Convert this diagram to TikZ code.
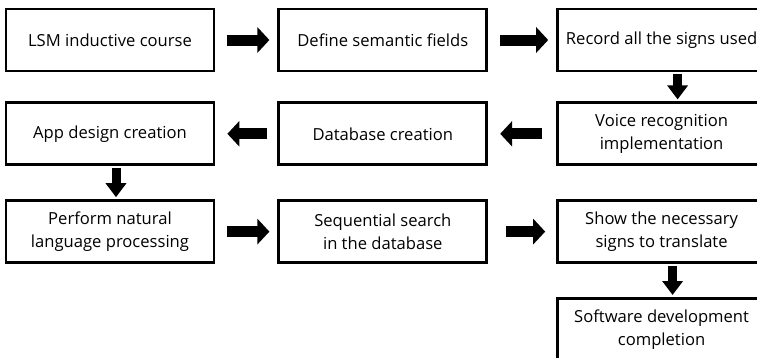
\documentclass[tikz,border=0pt]{standalone}
\usepackage{fontspec}
\setmainfont{Open Sans}
\usetikzlibrary{arrows.meta, positioning, calc}

\begin{document}
\begin{tikzpicture}[node distance=33pt and 62pt,
    stepbox/.style={rectangle, draw, line width=2.8pt, minimum width=208pt, minimum height=62pt,
        inner sep=2pt, align=center, font=\fontsize{16.6}{23}\selectfont},
    harrow/.style={line width=11pt, -{Triangle[length=12pt, width=25pt]}, shorten <=12pt, shorten >=8pt},
    varrow/.style={line width=9pt, -{Triangle[length=14pt, width=20pt]}, shorten <=2pt, shorten >=2pt}]
    \useasboundingbox (-110pt,-317pt) rectangle (647pt,40pt);
    % first row, left to right
    \node[stepbox] (lsm) at (0,0) {LSM inductive course};
    \node[stepbox, right=of lsm] (fields) {Define semantic fields};
    \node[stepbox, right=68pt of fields] (record) {Record all the signs used};
    % second row, right to left
    \node[stepbox, below=29pt of record] (voice) {Voice recognition\\implementation};
    \node[stepbox, left=68pt of voice] (db) {Database creation};
    \node[stepbox, left=of db] (app) {App design creation};
    % third row
    \node[stepbox, below=of app] (nlp) {Perform natural\\language processing};
    \node[stepbox, right=of nlp] (search) {Sequential search\\in the database};
    \node[stepbox, right=68pt of search] (show) {Show the necessary\\signs to translate};
    \node[stepbox, below=of show] (done) {Software development\\completion};

    \draw[harrow] (lsm) -- (fields);
    \draw[harrow] (fields) -- (record);
    \draw[varrow] ([xshift=16pt]record.south) -- ([xshift=16pt]voice.north);
    \draw[harrow, shorten <=14pt, shorten >=12pt] (voice) -- (db);
    \draw[harrow, shorten <=10pt, shorten >=12pt] (db) -- (app);
    \draw[varrow] ([xshift=6pt]app.south) -- ([xshift=6pt]nlp.north);
    \draw[harrow] (nlp) -- (search);
    \draw[harrow, shorten <=18pt, shorten >=11pt] (search) -- (show);
    \draw[varrow] ([xshift=11pt]show.south) -- ([xshift=11pt]done.north);
\end{tikzpicture}
\end{document}
